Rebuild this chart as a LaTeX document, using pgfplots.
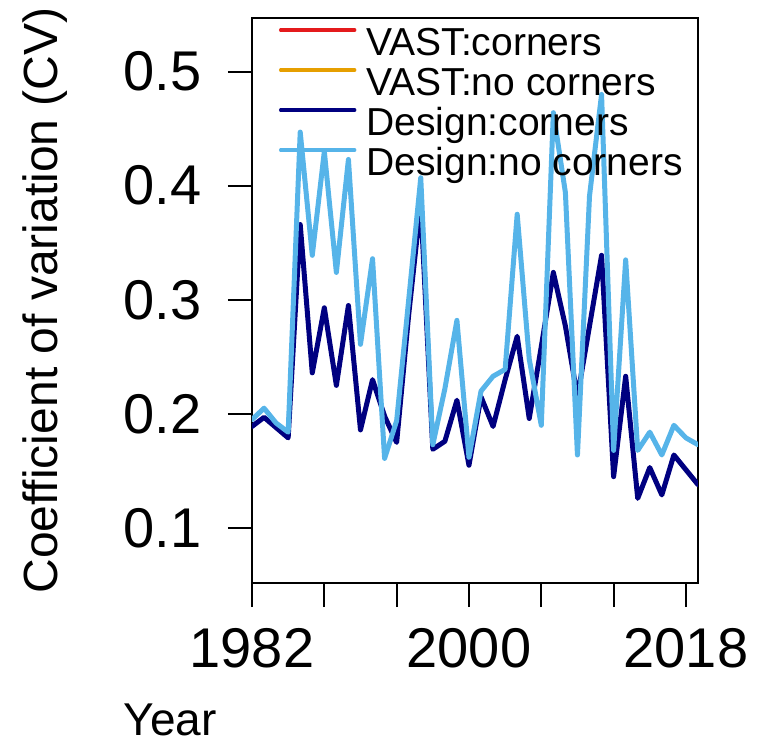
\documentclass[border=0pt]{standalone}
\usepackage{fontspec}
\setmainfont{Liberation Sans}
\usepackage{pgfplots}
\usepackage{pgfplotstable}
\pgfplotsset{compat=1.18}
\usetikzlibrary{calc}

\definecolor{designdark}{HTML}{000080}
\definecolor{designlight}{HTML}{56B4E9}
\definecolor{vastred}{HTML}{E41A1C}
\definecolor{vastorange}{HTML}{E69F00}

% Coefficient of variation of the design-based index, per year
\pgfplotstableread{
year corners nocorners
1982 0.189 0.195
1983 0.197 0.205
1984 0.188 0.192
1985 0.179 0.184
1986 0.366 0.447
1987 0.236 0.339
1988 0.293 0.430
1989 0.225 0.324
1990 0.295 0.423
1991 0.186 0.261
1992 0.230 0.336
1993 0.198 0.161
1994 0.175 0.194
1995 0.287 0.300
1996 0.385 0.407
1997 0.169 0.173
1998 0.176 0.222
1999 0.212 0.282
2000 0.155 0.162
2001 0.215 0.220
2002 0.189 0.233
2003 0.230 0.239
2004 0.268 0.375
2005 0.196 0.248
2006 0.259 0.190
2007 0.324 0.464
2008 0.277 0.394
2009 0.215 0.164
2010 0.277 0.391
2011 0.339 0.480
2012 0.145 0.168
2013 0.233 0.335
2014 0.126 0.168
2015 0.153 0.184
2016 0.129 0.164
2017 0.164 0.190
2018 0.151 0.179
2019 0.138 0.173
}\cvtable

\begin{document}
\begin{tikzpicture}
\begin{axis}[
  name=ax, at={(0,0)}, anchor=south west,
  scale only axis, width=223pt, height=282.5pt,
  xmin=1982, xmax=2019, ymin=0.0518, ymax=0.547,
  axis line style={line width=1pt},
  tick align=outside, major tick length=12pt,
  xtick pos=bottom, ytick pos=left,
  every tick/.style={black, line width=1pt},
  xtick={1982,1988,...,2018},
  xticklabels={1982,{},{},2000,{},{},2018},
  ytick={0.1,0.2,0.3,0.4,0.5},
  /pgf/number format/assume math mode=true,
  /pgf/number format/1000 sep={},
  yticklabel style={font=\fontsize{28}{30}\selectfont, inner sep=0pt, xshift=-13pt},
  xticklabel style={font=\fontsize{28}{30}\selectfont, inner sep=0pt, yshift=-10.5pt},
  ylabel={Coefficient of variation (CV)},
  ylabel style={at={(axis description cs:-0.435,0.5)}, anchor=base,
    font=\fontsize{24}{28}\selectfont, inner sep=0pt},
  xlabel={Year},
  xlabel style={at={(axis description cs:-0.289,-0.270)}, anchor=base west,
    font=\fontsize{23}{26}\selectfont, inner sep=0pt, text depth=0pt},
  legend cell align=left,
  legend style={at={(axis description cs:0.0605,0.984)}, anchor=north west,
    draw=none, fill=none, inner sep=0pt, outer sep=0pt,
    font=\fontsize{19.5}{20}\selectfont, row sep=2pt, column sep=5pt,
    nodes={inner sep=0pt, text height=14pt, text depth=4pt}},
  legend image code/.code={\draw[#1, line width=1.7pt] (0pt,7.5pt) -- (37pt,7.5pt);},
  every axis plot/.append style={line join=round, line cap=round},
]
\addlegendimage{vastred}
\addlegendentry{VAST:corners}
\addlegendimage{vastorange}
\addlegendentry{VAST:no corners}
\addlegendimage{designdark}
\addlegendentry{Design:corners}
\addlegendimage{designlight}
\addlegendentry{Design:no corners}
\addplot[designdark, line width=2.5pt, forget plot] table[x=year, y=corners] {\cvtable};
\addplot[designlight, line width=2.5pt, forget plot] table[x=year, y=nocorners] {\cvtable};
\end{axis}
\pgfresetboundingbox
\path[use as bounding box] ($(ax.south west)+(-126pt,-80pt)$) rectangle ($(ax.north east)+(30.5pt,9pt)$);
\end{tikzpicture}
\end{document}
